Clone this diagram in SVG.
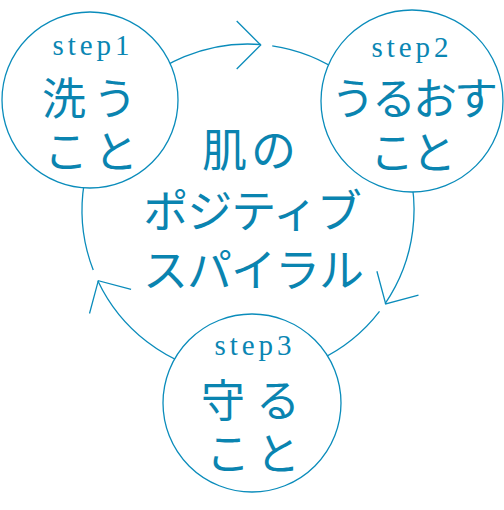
<svg xmlns="http://www.w3.org/2000/svg" width="504" height="510" viewBox="0 0 504 510">
<style>
.ring{fill:#fff;stroke:#0a8cbb;stroke-width:1.3}
.con{fill:none;stroke:#0a8cbb;stroke-width:1.3}
.step{font-family:"Liberation Serif",serif;font-size:29px;fill:#0a86b3;text-anchor:middle;letter-spacing:4px}
.jp{font-family:"Noto Sans CJK JP","Noto Sans CJK SC",sans-serif;font-size:44px;fill:#0a84b0;text-anchor:middle;dominant-baseline:central}
.big{font-size:45px}
</style>
<defs>
<path id="head" d="M-24,-24 L0,0 L-24,24" class="con"/>
</defs>
<rect width="504" height="510" fill="#fff"/>
<g id="connectors">
<path class="con" d="M93.23,270.03 A166,166 0 0 1 260.74,44.49"/>
<path class="con" d="M272.25,45.78 A166,166 0 0 1 385.13,303.55"/>
<path class="con" d="M379.52,311.28 A166,166 0 0 1 97.92,280.94"/>
<use href="#head" transform="translate(260.7,45) rotate(0)"/>
<use href="#head" transform="translate(385.7,304) rotate(120)"/>
<use href="#head" transform="translate(98.3,280.7) rotate(240)"/>
</g>
<g id="center">
<text class="jp big"><tspan x="251" y="147" style="letter-spacing:4px">肌の</tspan><tspan x="252" y="208" style="letter-spacing:-1px">ポジティブ</tspan><tspan x="253" y="267" style="letter-spacing:-1px">スパイラル</tspan></text>
</g>
<g id="step1">
<circle class="ring" cx="90" cy="100" r="88"/>
<text class="step" x="93" y="55">step1</text>
<text class="jp"><tspan x="93" y="95.5" style="letter-spacing:7px">洗う</tspan><tspan x="94" y="148.5" style="letter-spacing:6px">こと</tspan></text>
</g>
<g id="step2">
<circle class="ring" cx="412" cy="101" r="91"/>
<text class="step" x="412" y="57">step2</text>
<text class="jp"><tspan x="413" y="96" style="letter-spacing:-3px">うるおす</tspan><tspan x="412" y="150" style="letter-spacing:-2px">こと</tspan></text>
</g>
<g id="step3">
<circle class="ring" cx="252" cy="403" r="89"/>
<text class="step" x="255" y="355">step3</text>
<text class="jp"><tspan x="256" y="398" style="letter-spacing:11px">守る</tspan><tspan x="256" y="451" style="letter-spacing:6px">こと</tspan></text>
</g>
</svg>
